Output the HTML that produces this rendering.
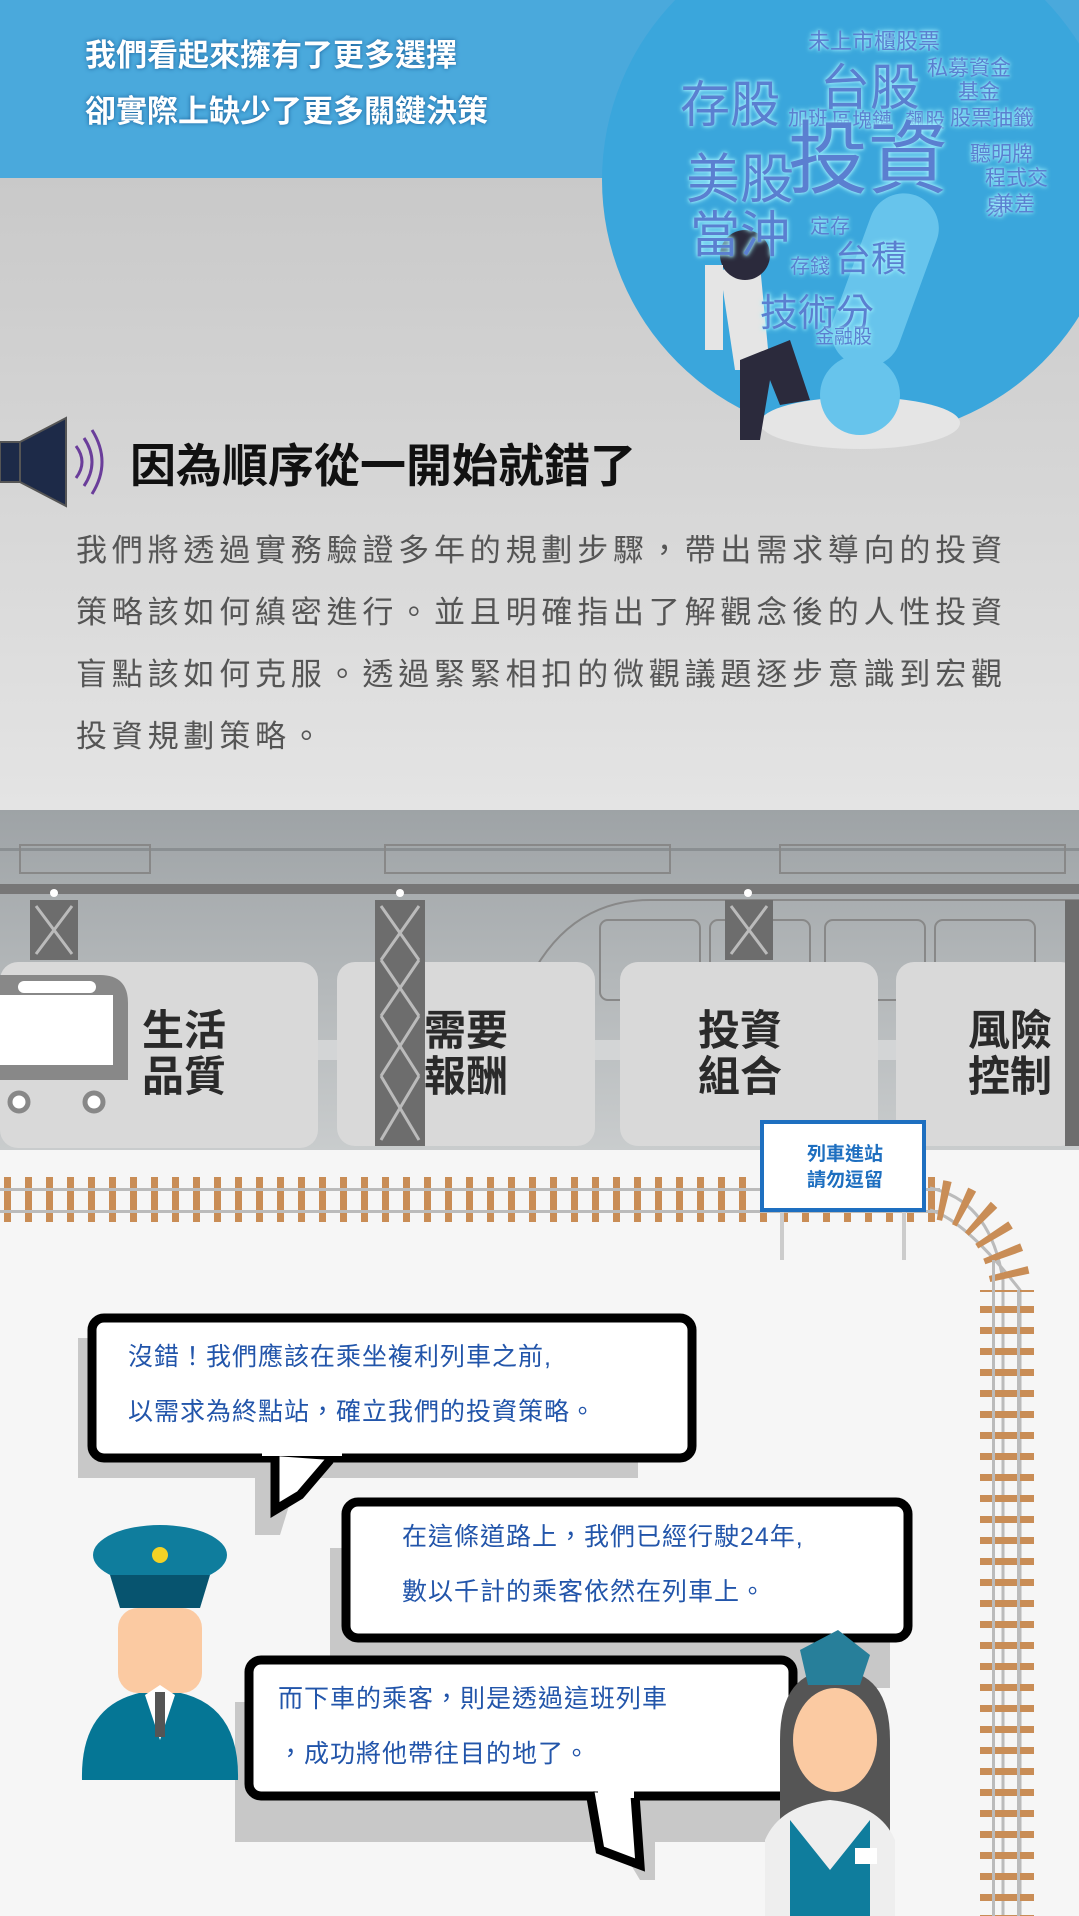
<!DOCTYPE html>
<html><head><meta charset="utf-8"><style>
*{margin:0;padding:0}
body{width:1079px;height:1916px;overflow:hidden;position:relative;font-family:"Liberation Sans","Noto Sans CJK TC",sans-serif;background:#f6f6f6}
.abs{position:absolute}
.t{font-family:"Liberation Sans","Noto Sans CJK TC",sans-serif}
</style></head><body>
<svg class="abs" style="left:0;top:0" width="1079" height="1916" viewBox="0 0 1079 1916">
<defs>
<linearGradient id="g1" x1="0" y1="0" x2="0" y2="1"><stop offset="0" stop-color="#c9c9c9"/><stop offset="1" stop-color="#e4e4e4"/></linearGradient>
<linearGradient id="g2" x1="0" y1="0" x2="0" y2="1"><stop offset="0" stop-color="#9ea3a6"/><stop offset="1" stop-color="#c9cccd"/></linearGradient>
<pattern id="tie" width="21" height="40" patternUnits="userSpaceOnUse"><rect x="4" y="0" width="7" height="40" fill="#c98d56"/></pattern>
<pattern id="tiev" width="40" height="21" patternUnits="userSpaceOnUse"><rect x="0" y="4" width="40" height="7" fill="#c98d56"/></pattern>
</defs>
<rect x="0" y="178" width="1079" height="632" fill="url(#g1)"/>
<rect x="0" y="0" width="1079" height="178" fill="#4aa9dc"/>
<circle cx="860" cy="180" r="258" fill="#3aa6dc"/>
<!-- train area -->
<rect x="0" y="810" width="1079" height="340" fill="url(#g2)"/>
<rect x="0" y="848" width="1079" height="3" fill="#8a8f92"/>
<rect x="0" y="884" width="1079" height="10" fill="#777"/>
<g fill="none" stroke="#888" stroke-width="2">
<rect x="20" y="845" width="130" height="28"/><rect x="385" y="845" width="285" height="28"/><rect x="780" y="845" width="285" height="28"/>
<path d="M520 1000 Q560 900 650 900 L1079 900"/>
<rect x="600" y="920" width="100" height="80" rx="8"/><rect x="710" y="920" width="100" height="80" rx="8"/><rect x="825" y="920" width="100" height="80" rx="8"/><rect x="935" y="920" width="100" height="80" rx="8"/>
</g>
<rect x="0" y="1040" width="1079" height="20" fill="#d3d5d6"/>
<g fill="#6d6d6d">
<rect x="30" y="900" width="48" height="60"/><rect x="375" y="900" width="50" height="240"/><rect x="725" y="900" width="48" height="60"/><rect x="1065" y="900" width="14" height="240"/>
</g>
<g stroke="#bbb" stroke-width="3" fill="none">
<path d="M36 906 L72 954 M72 906 L36 954"/>
<path d="M731 906 L767 954 M767 906 L731 954"/>
</g>
<g fill="#fff"><circle cx="54" cy="893" r="4"/><circle cx="400" cy="893" r="4"/><circle cx="748" cy="893" r="4"/></g>
<!-- cards -->
<g fill="#d9d9d9">
<rect x="0" y="962" width="318" height="186" rx="18"/>
<rect x="337" y="962" width="258" height="184" rx="18"/>
<rect x="620" y="962" width="258" height="184" rx="18"/>
<rect x="896" y="962" width="183" height="184" rx="18"/>
</g>
<rect x="375" y="900" width="50" height="246" fill="#6d6d6d"/>
<g stroke="#bbb" stroke-width="3" fill="none"><path d="M381 906 L419 960 M419 906 L381 960 M381 960 L419 1016 M419 960 L381 1016 M381 1016 L419 1076 M419 1016 L381 1076 M381 1076 L419 1140 M419 1076 L381 1140"/></g>
<rect x="1065" y="960" width="14" height="186" fill="#6d6d6d"/>
<path d="M0 975 L100 975 Q128 975 128 1003 L128 1080 L0 1080 Z" fill="#888"/>
<rect x="0" y="995" width="113" height="70" fill="#fff"/>
<rect x="18" y="981" width="78" height="12" rx="6" fill="#fff"/>
<circle cx="19" cy="1102" r="9" fill="#fff" stroke="#888" stroke-width="5"/>
<circle cx="94" cy="1102" r="9" fill="#fff" stroke="#888" stroke-width="5"/>
<!-- tracks -->
<rect x="0" y="1150" width="1079" height="766" fill="#f6f6f6"/>
<rect x="0" y="1177" width="940" height="45" fill="url(#tie)"/>
<rect x="0" y="1188" width="940" height="3" fill="#bbb"/><rect x="0" y="1210" width="940" height="3" fill="#bbb"/>
<path d="M930 1188 Q990 1200 1003 1280 L1003 1916 M930 1210 Q965 1220 1020 1290 L1020 1916" stroke="#bbb" stroke-width="3" fill="none"/>
<path d="M940 1200 Q1000 1210 1012 1290" stroke="#c98d56" stroke-width="40" stroke-dasharray="7 14" fill="none"/>
<rect x="980" y="1290" width="54" height="626" fill="url(#tiev)"/>
<rect x="992" y="1260" width="3" height="656" fill="#bbb"/><rect x="1017" y="1290" width="3" height="626" fill="#bbb"/>
<!-- sign -->
<rect x="780" y="1200" width="4" height="60" fill="#ccc"/><rect x="902" y="1200" width="4" height="60" fill="#ccc"/>
<rect x="762" y="1122" width="162" height="88" fill="#fff" stroke="#1e6fc0" stroke-width="4"/>
<!-- person -->
<ellipse cx="860" cy="423" rx="100" ry="26" fill="#e5e5e5"/>
<circle cx="860" cy="395" r="40" fill="#67c4ec"/>
<rect x="850" y="190" width="70" height="180" rx="35" fill="#67c4ec" transform="rotate(20 885 280)"/>
<path d="M720 270 L760 265 L770 370 L735 370 Z" fill="#e5e5e5"/>
<path d="M740 360 L790 340 L810 400 L780 405 L770 380 L760 440 L740 440 Z" fill="#2b2a3c"/>
<circle cx="745" cy="255" r="25" fill="#2b2a3c"/>
<rect x="705" y="265" width="18" height="85" fill="#e5e5e5"/>
</svg>

<div class="abs t" style="left:85px;top:28px;color:#fff;font-weight:bold;font-size:31px;line-height:56px;text-shadow:0 0 4px #1a5f99">我們看起來擁有了更多選擇<br>卻實際上缺少了更多關鍵決策</div>

<div class="abs t" style="left:680px;top:20px;width:380px;height:320px;color:#5b7fd0;text-shadow:0 0 6px #a6f3ff,0 0 3px #a6f3ff">
<span class="abs" style="left:128px;top:4px;font-size:22px">未上市櫃股票</span>
<span class="abs" style="left:140px;top:28px;font-size:50px">台股</span>
<span class="abs" style="left:0;top:45px;font-size:50px">存股</span>
<span class="abs" style="left:247px;top:32px;font-size:21px">私募資金</span>
<span class="abs" style="left:278px;top:56px;font-size:21px">基金</span>
<span class="abs" style="left:108px;top:82px;font-size:20px">加班</span><span class="abs" style="left:152px;top:84px;font-size:20px">區塊鏈</span><span class="abs" style="left:225px;top:84px;font-size:20px">飆股</span><span class="abs" style="left:270px;top:82px;font-size:21px">股票抽籤</span>
<span class="abs" style="left:6px;top:115px;font-size:54px">美股</span>
<span class="abs" style="left:108px;top:100px;font-size:80px;line-height:1">投資</span>
<span class="abs" style="left:290px;top:118px;font-size:21px">聽明牌</span>
<span class="abs" style="left:305px;top:142px;font-size:21px">程式交易</span>
<span class="abs" style="left:313px;top:168px;font-size:21px">兼差</span>
<span class="abs" style="left:10px;top:175px;font-size:50px">當沖</span>
<span class="abs" style="left:130px;top:190px;font-size:20px">定存</span>
<span class="abs" style="left:155px;top:210px;font-size:36px">台積</span>
<span class="abs" style="left:110px;top:230px;font-size:20px">存錢</span>
<span class="abs" style="left:80px;top:262px;font-size:38px">技術分</span>
<span class="abs" style="left:135px;top:302px;font-size:19px">金融股</span>
</div>

<svg class="abs" style="left:0;top:412px" width="110" height="100"><rect x="0" y="30" width="20" height="40" fill="#1d2a48" stroke="#555" stroke-width="2"/><path d="M20 30 L66 6 L66 94 L20 70 Z" fill="#1d2a48" stroke="#555" stroke-width="2"/><path d="M76 34 Q88 50 76 66 M84 26 Q100 50 84 74 M92 18 Q112 50 92 82" stroke="#6a3d9a" stroke-width="3" fill="none"/></svg>
<div class="abs t" style="left:130px;top:430px;font-size:46px;font-weight:bold;color:#111">因為順序從一開始就錯了</div>
<div class="abs t" style="left:76px;top:520px;white-space:nowrap;font-size:31px;line-height:62px;color:#555;letter-spacing:4.8px">我們將透過實務驗證多年的規劃步驟，帶出需求導向的投資<br>策略該如何縝密進行。並且明確指出了解觀念後的人性投資<br>盲點該如何克服。透過緊緊相扣的微觀議題逐步意識到宏觀<br>投資規劃策略。</div>

<div class="abs t" style="font-weight:bold;font-size:42px;line-height:46px;color:#2a2a2a">
<div class="abs" style="left:142px;top:1008px;width:100px">生活品質</div>
<div class="abs" style="left:424px;top:1008px;width:100px">需要報酬</div>
<div class="abs" style="left:698px;top:1008px;width:100px">投資組合</div>
<div class="abs" style="left:968px;top:1008px;width:100px">風險控制</div>
</div>
<div class="abs t" style="left:762px;top:1142px;width:166px;text-align:center;font-size:19px;font-weight:bold;color:#1e6fc0;line-height:26px">列車進站<br>請勿逗留</div>

<!-- bubbles -->
<svg class="abs" style="left:0;top:1290px" width="1079" height="626">
<g fill="#c8c8c8"><rect x="78" y="48" width="560" height="140"/><rect x="330" y="258" width="560" height="140"/><rect x="235" y="412" width="560" height="140"/><path d="M255 180 L255 245 L280 245 L300 180Z"/><path d="M610 540 L640 590 L655 590 L655 540Z"/></g>
<g fill="#fff" stroke="#000" stroke-width="9">
<rect x="92" y="28" width="600" height="140" rx="12"/>
<rect x="346" y="212" width="562" height="136" rx="12"/>
<rect x="249" y="370" width="544" height="136" rx="12"/>
</g>
<path d="M275 166 L275 220 L300 205 L330 170" fill="#fff" stroke="#000" stroke-width="9"/>
<path d="M590 502 L600 560 L640 575 L635 505" fill="#fff" stroke="#000" stroke-width="9"/>
<rect x="262" y="158" width="80" height="8" fill="#fff"/><rect x="598" y="498" width="36" height="10" fill="#fff"/>
<!-- conductor -->
<path d="M82 490 Q80 405 160 400 Q240 405 238 490 Z" fill="#057695"/>
<ellipse cx="160" cy="265" rx="67" ry="30" fill="#0f7d9d"/>
<circle cx="160" cy="265" r="8" fill="#f4d226"/>
<path d="M110 285 L210 285 L200 318 L120 318Z" fill="#07546f"/>
<rect x="118" y="318" width="84" height="85" rx="20" fill="#fbcaa2"/>
<path d="M160 395 L145 405 L160 450 L175 405Z" fill="#fff"/><rect x="155" y="402" width="10" height="45" fill="#555"/>
<!-- lady -->
<path d="M780 450 Q780 380 835 380 Q890 380 890 450 L890 600 L780 600Z" fill="#555"/>
<path d="M800 360 L838 340 L870 365 L860 395 L808 395Z" fill="#277f9a"/>
<ellipse cx="835" cy="450" rx="42" ry="52" fill="#fbcaa2"/>
<path d="M765 626 L765 550 Q780 515 830 510 Q880 515 895 550 L895 626Z" fill="#eee"/>
<path d="M790 626 L790 530 L830 580 L870 530 L870 626Z" fill="#0f7d9d"/>
<rect x="855" y="558" width="22" height="16" fill="#fff"/>
</svg>
<div class="abs t" style="color:#2255aa;font-size:25px;line-height:55px;letter-spacing:1px">
<div class="abs" style="left:128px;top:1330px;width:600px">沒錯！我們應該在乘坐複利列車之前,<br>以需求為終點站，確立我們的投資策略。</div>
<div class="abs" style="left:402px;top:1510px;width:520px">在這條道路上，我們已經行駛24年,<br>數以千計的乘客依然在列車上。</div>
<div class="abs" style="left:278px;top:1672px;width:520px">而下車的乘客，則是透過這班列車<br>，成功將他帶往目的地了。</div>
</div>
</body></html>
